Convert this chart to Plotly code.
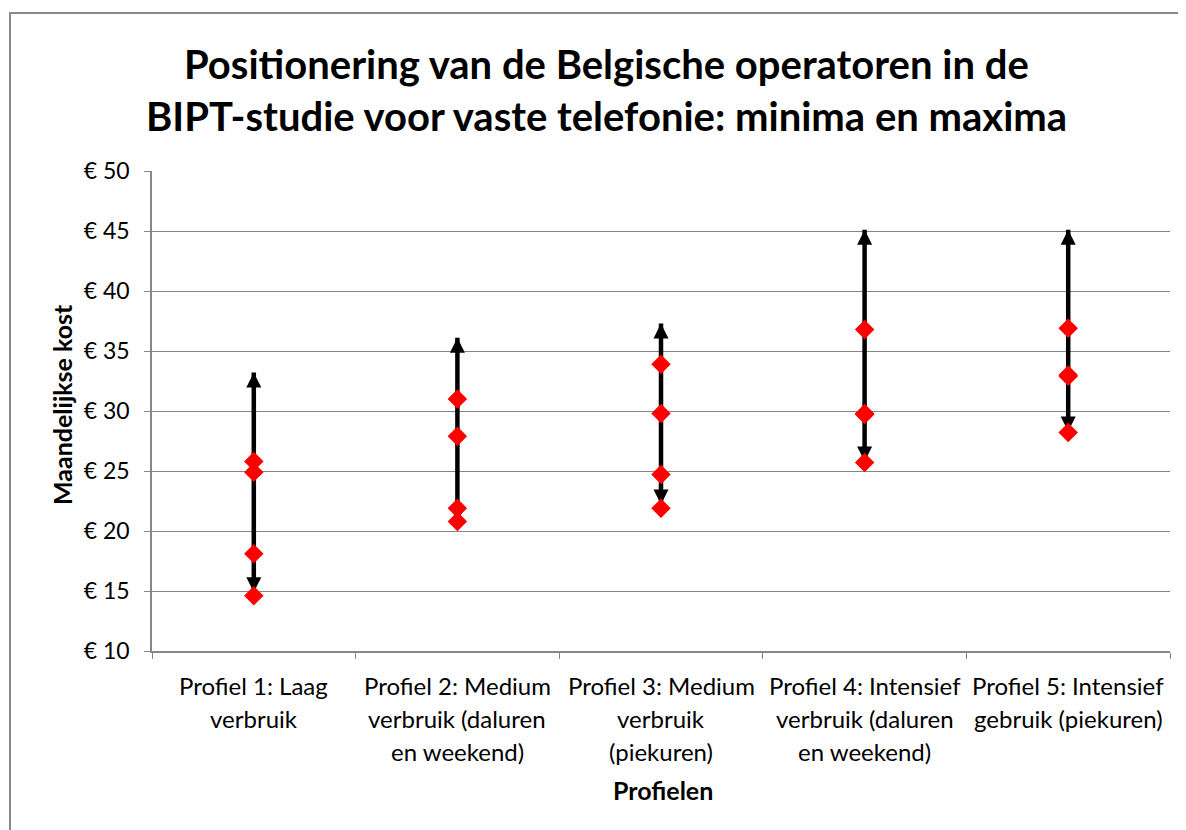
import plotly.graph_objects as go

# ---------------- data ----------------
categories = ["Profiel 1", "Profiel 2", "Profiel 3", "Profiel 4", "Profiel 5"]
category_labels = [
    ["Profiel 1: Laag", "verbruik"],
    ["Profiel 2: Medium", "verbruik (daluren", "en weekend)"],
    ["Profiel 3: Medium", "verbruik", "(piekuren)"],
    ["Profiel 4: Intensief", "verbruik (daluren", "en weekend)"],
    ["Profiel 5: Intensief", "gebruik (piekuren)"],
]
range_min = [14.9, 20.8, 22.2, 25.8, 28.3]
range_max = [33.2, 36.1, 37.3, 45.1, 45.1]
operator_a = [25.8, 31.0, 33.9, 36.8, 36.9]
operator_b = [24.9, 27.9, 29.8, 29.8, 33.0]
operator_c = [18.1, 21.9, 24.7, 29.7, 32.9]
operator_d = [14.6, 20.8, 21.9, 25.7, 28.2]
y_tickvals = [10, 15, 20, 25, 30, 35, 40, 45, 50]
y_ticktext = ["€ %d" % v for v in y_tickvals]
title_lines = ["Positionering van de Belgische operatoren in de",
               "BIPT-studie voor vaste telefonie: minima en maxima"]

FONT = "Lato"
OFF = 8  # page body margin
W, H = 1186 - OFF, 830 - OFF
# plot-area box in screen pixels
SL, SR, ST, SB = 152, 1170, 171, 651
L, R, T, B = SL - OFF, SR - OFF, ST - OFF, SB - OFF

fig = go.Figure()

seg_x, seg_y = [], []
for c, lo, hi in zip(categories, range_min, range_max):
    seg_x += [c, c, None]
    seg_y += [lo, hi, None]
fig.add_trace(go.Scatter(x=seg_x, y=seg_y, mode="lines",
                         line=dict(color="black", width=4.5),
                         hoverinfo="skip", showlegend=False))
fig.add_trace(go.Scatter(x=categories, y=range_max, mode="markers",
                         marker=dict(symbol="arrow-up", size=15, color="black",
                                     line=dict(width=0)),
                         showlegend=False))
fig.add_trace(go.Scatter(x=categories, y=range_min, mode="markers",
                         marker=dict(symbol="arrow-down", size=15, color="black",
                                     line=dict(width=0)),
                         showlegend=False))
for name, vals in [("A", operator_a), ("B", operator_b), ("C", operator_c), ("D", operator_d)]:
    fig.add_trace(go.Scatter(x=categories, y=vals, mode="markers", name=name,
                             marker=dict(symbol="diamond", size=15, color="#FF0000",
                                         line=dict(width=0)),
                             showlegend=False))

def py(spix):
    return (SB - spix) / (SB - ST)

def px(spix):
    return (spix - SL) / (SR - SL)

annotations = []
for i, line in enumerate(title_lines):
    annotations.append(dict(text="<b>%s</b>" % line, xref="paper", yref="paper",
                            x=px(606), y=py(64 + 52 * i), xanchor="center", yanchor="middle",
                            showarrow=False, font=dict(family=FONT, size=40, color="black")))
for c, lines in zip(categories, category_labels):
    for j, line in enumerate(lines):
        annotations.append(dict(text=line, xref="x", yref="paper", x=c, y=py(685 + 33 * j),
                                xanchor="center", yanchor="middle", showarrow=False,
                                font=dict(family=FONT, size=24, color="black")))
annotations.append(dict(text="<b>Profielen</b>", xref="paper", yref="paper",
                        x=px(663), y=py(790), xanchor="center", yanchor="middle",
                        showarrow=False, font=dict(family=FONT, size=25, color="black")))
annotations.append(dict(text="<b>Maandelijkse kost</b>", xref="paper", yref="paper",
                        x=px(62), y=py(405), xanchor="center", yanchor="middle",
                        textangle=-90, showarrow=False,
                        font=dict(family=FONT, size=25, color="black")))

fig.update_layout(
    width=W, height=H,
    margin=dict(l=L, r=W - R, t=T, b=H - B, autoexpand=False),
    paper_bgcolor="white", plot_bgcolor="white",
    font=dict(family=FONT, color="black"),
    showlegend=False,
    annotations=annotations,
    shapes=[dict(type="rect", xref="paper", yref="paper",
                 x0=px(10), x1=px(1200), y0=py(845), y1=py(13),
                 line=dict(color="#888888", width=2), fillcolor="rgba(0,0,0,0)",
                 layer="below")],
    xaxis=dict(type="category", categoryorder="array", categoryarray=categories,
               range=[-0.5, 4.5], showticklabels=False, showgrid=False,
               tickson="boundaries", ticks="outside", ticklen=6, tickcolor="#868686",
               showline=True, linecolor="#868686", linewidth=1.5, zeroline=False),
    yaxis=dict(range=[10, 50], tickvals=y_tickvals, ticktext=y_ticktext,
               showgrid=True, gridcolor="#868686", gridwidth=1.3,
               ticks="outside", ticklen=6, tickcolor="#868686",
               showline=True, linecolor="#868686", linewidth=1.5, zeroline=False,
               tickfont=dict(family=FONT, size=23, color="black"), ticklabelstandoff=10),
)

fig.write_html("out.html")
